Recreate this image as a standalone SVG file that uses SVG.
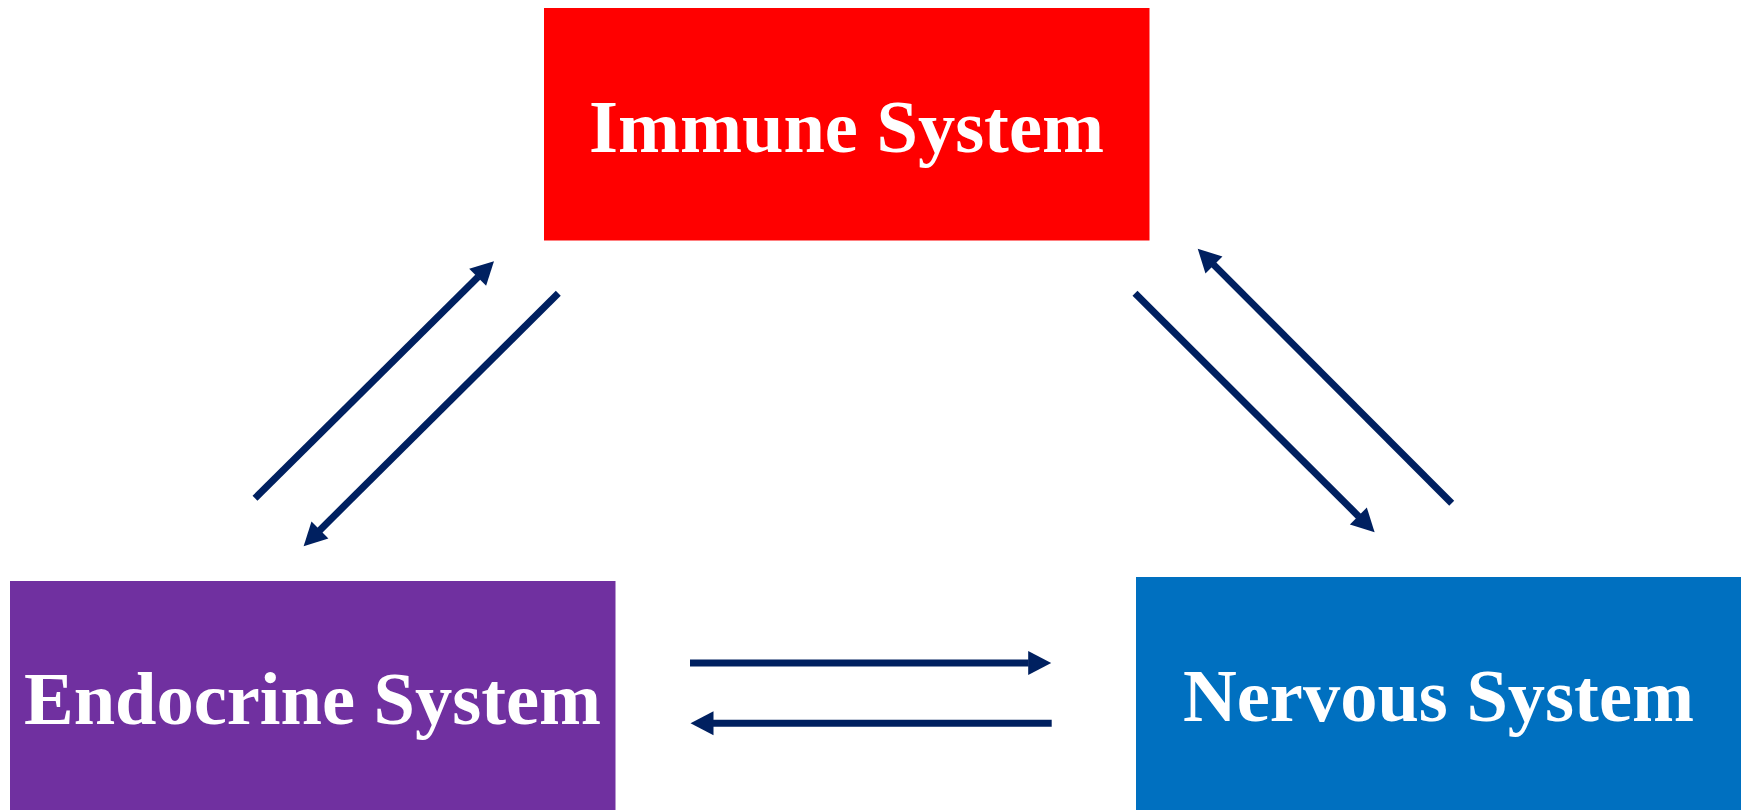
<svg xmlns="http://www.w3.org/2000/svg" width="1747" height="810" viewBox="0 0 1747 810">
  <style>
    .lbl { font-family: "Liberation Serif", "Times New Roman", serif; font-weight: bold; font-size: 75px; fill: #FFFFFF; }
    .conn { stroke: #002060; stroke-width: 7; fill: none; stroke-linecap: butt; marker-end: url(#head); }
  </style>
  <defs>
    <marker id="head" markerUnits="userSpaceOnUse" markerWidth="24" markerHeight="26" refX="0.5" refY="12" orient="auto" overflow="visible">
      <path d="M0,0 L23,12 L0,24 Z" fill="#002060"/>
    </marker>
  </defs>
  <rect width="1747" height="810" fill="#FFFFFF"/>
  <g id="immune">
    <rect x="544" y="8" width="605.5" height="232.5" fill="#FF0000"/>
    <text class="lbl" x="589" y="152" textLength="515" lengthAdjust="spacingAndGlyphs">Immune System</text>
  </g>
  <g id="endocrine">
    <rect x="10" y="581" width="605.5" height="240" fill="#7030A0"/>
    <text class="lbl" x="24" y="724" textLength="577" lengthAdjust="spacingAndGlyphs">Endocrine System</text>
  </g>
  <g id="nervous">
    <rect x="1136" y="577" width="605" height="240" fill="#0070C0"/>
    <text class="lbl" x="1183" y="721" textLength="511" lengthAdjust="spacingAndGlyphs">Nervous System</text>
  </g>
  <g id="connectors">
    <line class="conn" x1="255" y1="498.3" x2="478" y2="277"/>
    <line class="conn" x1="558.3" y1="293.3" x2="319.6" y2="530.4"/>
    <line class="conn" x1="1135" y1="293.3" x2="1358.7" y2="516.4"/>
    <line class="conn" x1="1451.7" y1="503.3" x2="1213.6" y2="264.6"/>
    <line class="conn" x1="690" y1="663" x2="1028.7" y2="663"/>
    <line class="conn" x1="1051.7" y1="723.3" x2="713" y2="723.3"/>
  </g>
</svg>
